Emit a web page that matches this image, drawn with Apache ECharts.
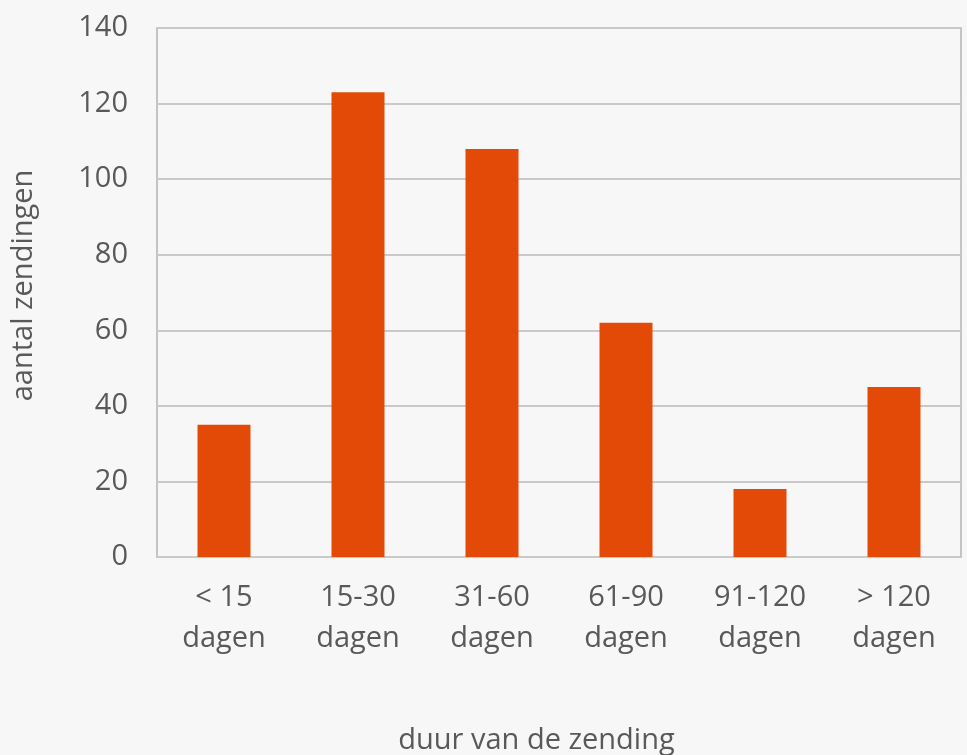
<!DOCTYPE html>
<html><head><meta charset="utf-8">
<script src="https://cdn.jsdelivr.net/npm/echarts@6/dist/echarts.min.js"></script>
<style>html,body{margin:0;padding:0;background:#f7f7f7}#c{width:967px;height:755px}</style>
</head><body><div id="c"></div>
<script>
const categories = ["< 15\ndagen", "15-30\ndagen", "31-60\ndagen", "61-90\ndagen", "91-120\ndagen", "> 120\ndagen"];
const values = [35, 123, 108, 62, 18, 45];
const xTitle = "duur van de zending";
const yTitle = "aantal zendingen";

const font = "'Open Sans', 'Noto Sans', sans-serif";
const chart = echarts.init(document.getElementById('c'));
chart.setOption({
  backgroundColor: '#f7f7f7',
  animation: false,
  grid: {left: 157, top: 28, right: 6, bottom: 198, show: true, borderColor: '#c4c4c4', borderWidth: 2, backgroundColor: 'transparent', outerBoundsMode: 'none', containLabel: false},
  xAxis: {
    type: 'category', data: categories,
    axisLine: {show: false}, axisTick: {show: false},
    axisLabel: {color: '#595959', fontSize: 29, fontFamily: font, lineHeight: 41, margin: 20},
    name: xTitle, nameLocation: 'middle', nameGap: 169,
    nameTextStyle: {color: '#595959', fontSize: 29, fontFamily: font, padding: [0, 45, 0, 0]}
  },
  yAxis: {
    type: 'value', min: 0, max: 140, interval: 20,
    axisLine: {show: false}, axisTick: {show: false},
    splitLine: {lineStyle: {color: '#c9c9c9', width: 2}},
    axisLabel: {color: '#595959', fontSize: 29, fontFamily: font, margin: 29},
    name: yTitle, nameLocation: 'middle', nameGap: 119,
    nameTextStyle: {color: '#595959', fontSize: 29, fontFamily: font, padding: [0, 0, 0, 14]}
  },
  series: [{
    type: 'bar', data: values, barWidth: 53,
    itemStyle: {color: '#e34a08'}
  }]
});
</script></body></html>
